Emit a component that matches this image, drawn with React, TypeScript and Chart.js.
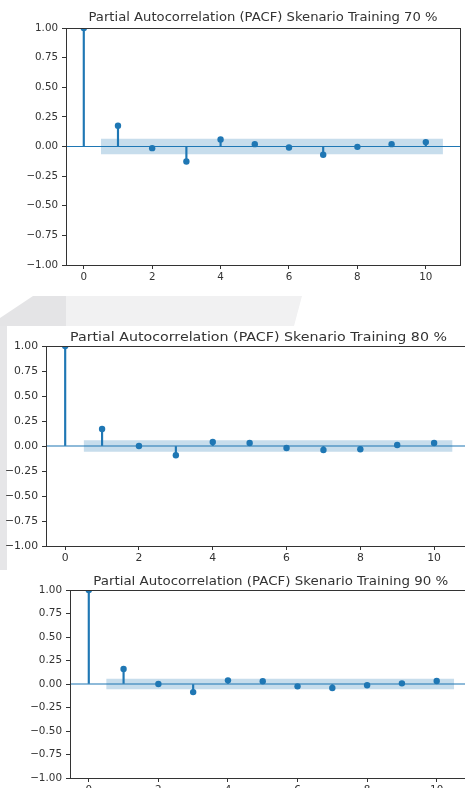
import React, { useEffect, useRef } from "react";
import { Chart, registerables } from "chart.js";

Chart.register(...registerables);

// ---------- data ----------
const LAGS = [0, 1, 2, 3, 4, 5, 6, 7, 8, 9, 10];
const PACF_70 = [1.0, 0.175, -0.014, -0.127, 0.059, 0.02, -0.008, -0.07, -0.003, 0.02, 0.037];
const PACF_80 = [1.0, 0.17, 0.0, -0.093, 0.04, 0.03, -0.02, -0.04, -0.033, 0.01, 0.03];
const PACF_90 = [1.0, 0.16, 0.0, -0.086, 0.039, 0.029, -0.025, -0.043, -0.014, 0.007, 0.032];
const CONF_70 = 0.066;
const CONF_80 = 0.058;
const CONF_90 = 0.055;
const TITLE_70 = "Partial Autocorrelation (PACF) Skenario Training 70 %";
const TITLE_80 = "Partial Autocorrelation (PACF) Skenario Training 80 %";
const TITLE_90 = "Partial Autocorrelation (PACF) Skenario Training 90 %";
const X_TICKS = [0, 2, 4, 6, 8, 10];
const Y_TICKS = [-1, -0.75, -0.5, -0.25, 0, 0.25, 0.5, 0.75, 1];

const BLUE = "#1f77b4";
const BAND = "rgba(31,119,180,0.25)";
const INK = "#333333";
const FONT = "'DejaVu Sans', sans-serif";

type PanelProps = {
  title: string;
  values: number[];
  conf: number;
  left: number;
  top: number;
  width: number;
  height: number;
  pad: { top: number; right: number; bottom: number; left: number };
  yWidth: number;
  xHeight: number;
  tickFont: number;
  titleFont: number;
  titleWidth: number;
  titleOffset: number;
  xMin: number;
  xMax: number;
};

function fmt(v: number) {
  const s = Math.abs(v).toFixed(2);
  return v < 0 ? "\u2212" + s : s;
}

function Panel(p: PanelProps) {
  const ref = useRef<HTMLCanvasElement | null>(null);
  useEffect(() => {
    const canvas = ref.current;
    if (!canvas) return;
    const framePlugin = {
      id: "frame",
      afterDraw(chart: any) {
        const { ctx, chartArea } = chart;
        ctx.save();
        ctx.strokeStyle = INK;
        ctx.lineWidth = 1;
        ctx.strokeRect(
          Math.round(chartArea.left) + 0.5,
          Math.round(chartArea.top) + 0.5,
          Math.round(chartArea.right - chartArea.left),
          Math.round(chartArea.bottom - chartArea.top)
        );
        // title, stretched horizontally like the reference
        ctx.fillStyle = INK;
        ctx.font = `${p.titleFont}px ${FONT}`;
        ctx.textAlign = "center";
        ctx.textBaseline = "middle";
        const w = ctx.measureText(p.title).width;
        const sx = w > 0 ? p.titleWidth / w : 1;
        const cx = (chartArea.left + chartArea.right) / 2;
        ctx.translate(cx, chartArea.top - p.titleOffset);
        ctx.scale(sx, 1);
        ctx.fillText(p.title, 0, 0);
        ctx.restore();
      },
    };
    const tickColor = (c: any) =>
      c && c.tick && X_TICKS.indexOf(c.tick.value) >= 0 ? INK : "rgba(0,0,0,0)";
    const chart = new Chart(canvas, {
      type: "bar",
      data: {
        datasets: [
          {
            type: "line",
            label: "markers",
            data: LAGS.map((x, i) => ({ x, y: p.values[i] })),
            showLine: false,
            pointRadius: 3.2,
            pointHoverRadius: 3.2,
            pointBackgroundColor: BLUE,
            pointBorderColor: BLUE,
            pointBorderWidth: 0,
            clip: 0,
            order: 0,
          } as any,
          {
            type: "bar",
            label: "stems",
            data: LAGS.map((x, i) => ({ x, y: p.values[i] })),
            backgroundColor: BLUE,
            barThickness: 1.5,
            grouped: false,
            order: 1,
          } as any,
          {
            type: "line",
            label: "zero",
            data: [
              { x: p.xMin, y: 0 },
              { x: p.xMax, y: 0 },
            ],
            borderColor: BLUE,
            borderWidth: 1.2,
            pointRadius: 0,
            order: 2,
          } as any,
          {
            type: "line",
            label: "upper",
            data: [
              { x: 0.5, y: p.conf },
              { x: LAGS[LAGS.length - 1] + 0.5, y: p.conf },
            ],
            borderWidth: 0,
            borderColor: "rgba(0,0,0,0)",
            pointRadius: 0,
            fill: false,
            order: 3,
          } as any,
          {
            type: "line",
            label: "lower",
            data: [
              { x: 0.5, y: -p.conf },
              { x: LAGS[LAGS.length - 1] + 0.5, y: -p.conf },
            ],
            borderWidth: 0,
            borderColor: "rgba(0,0,0,0)",
            backgroundColor: BAND,
            pointRadius: 0,
            fill: "-1",
            order: 3,
          } as any,
        ],
      },
      options: {
        animation: false,
        responsive: false,
        maintainAspectRatio: false,
        events: [],
        layout: { padding: p.pad },
        plugins: {
          legend: { display: false },
          title: { display: false },
          tooltip: { enabled: false },
          filler: { propagate: false },
        },
        scales: {
          x: {
            type: "linear",
            min: p.xMin,
            max: p.xMax,
            offset: false,
            afterBuildTicks(axis: any) {
              axis.ticks = X_TICKS.map((v) => ({ value: v }));
            },
            afterFit(axis: any) {
              axis.height = p.xHeight;
            },
            grid: {
              display: true,
              offset: false,
              drawOnChartArea: false,
              drawTicks: true,
              tickLength: 4,
              tickColor: tickColor,
              color: tickColor,
            },
            border: { display: true, color: INK, width: 1 },
            ticks: {
              color: INK,
              font: { family: FONT, size: p.tickFont },
              padding: 2,
              maxRotation: 0,
              autoSkip: false,
              callback: (v: any) => String(v),
            },
          },
          y: {
            type: "linear",
            min: -1,
            max: 1,
            afterBuildTicks(axis: any) {
              axis.ticks = Y_TICKS.map((v) => ({ value: v }));
            },
            afterFit(axis: any) {
              axis.width = p.yWidth;
            },
            grid: {
              display: true,
              drawOnChartArea: false,
              drawTicks: true,
              tickLength: 4,
              tickColor: INK,
              color: INK,
            },
            border: { display: true, color: INK, width: 1 },
            ticks: {
              color: INK,
              font: { family: FONT, size: p.tickFont },
              padding: 4,
              autoSkip: false,
              callback: (v: any) => fmt(Number(v)),
            },
          },
        },
      } as any,
      plugins: [framePlugin],
    });
    return () => chart.destroy();
  }, []);
  return (
    <canvas
      ref={ref}
      width={p.width}
      height={p.height}
      style={{ position: "absolute", left: p.left, top: p.top, width: p.width, height: p.height }}
    />
  );
}

export default function App() {
  return (
    <div
      style={{
        position: "absolute",
        left: 0,
        top: 0,
        width: 465,
        height: 788,
        overflow: "hidden",
        background: "#ffffff",
      }}
    >
      {/* faint page watermark behind the second figure */}
      <div
        style={{
          position: "absolute",
          left: 0,
          top: 296,
          width: 66,
          height: 30,
          background: "#e4e4e6",
          clipPath: "polygon(33px 0, 66px 0, 66px 30px, 0 30px, 0 22px)",
        }}
      />
      <div
        style={{
          position: "absolute",
          left: 66,
          top: 296,
          width: 236,
          height: 30,
          background: "#f1f1f2",
          clipPath: "polygon(0 0, 236px 0, 228px 30px, 0 30px)",
        }}
      />
      <div style={{ position: "absolute", left: 0, top: 326, width: 7, height: 244, background: "#e6e6e8" }} />

      <Panel
        title={TITLE_70}
        values={PACF_70}
        conf={CONF_70}
        left={0}
        top={0}
        width={465}
        height={290}
        pad={{ top: 28, right: 5, bottom: 5, left: 0 }}
        yWidth={66}
        xHeight={20}
        tickFont={10.3}
        titleFont={12}
        titleWidth={349}
        titleOffset={10.5}
        xMin={-0.52}
        xMax={11}
      />
      <Panel
        title={TITLE_80}
        values={PACF_80}
        conf={CONF_80}
        left={0}
        top={320}
        width={476}
        height={250}
        pad={{ top: 26, right: 5, bottom: 3, left: 0 }}
        yWidth={46}
        xHeight={21}
        tickFont={10.8}
        titleFont={12}
        titleWidth={377}
        titleOffset={8}
        xMin={-0.52}
        xMax={11}
      />
      <Panel
        title={TITLE_90}
        values={PACF_90}
        conf={CONF_90}
        left={0}
        top={570}
        width={477}
        height={240}
        pad={{ top: 20, right: 5.5, bottom: 12, left: 0 }}
        yWidth={70}
        xHeight={20}
        tickFont={10.4}
        titleFont={11.6}
        titleWidth={355}
        titleOffset={8}
        xMin={-0.54}
        xMax={11}
      />
    </div>
  );
}
